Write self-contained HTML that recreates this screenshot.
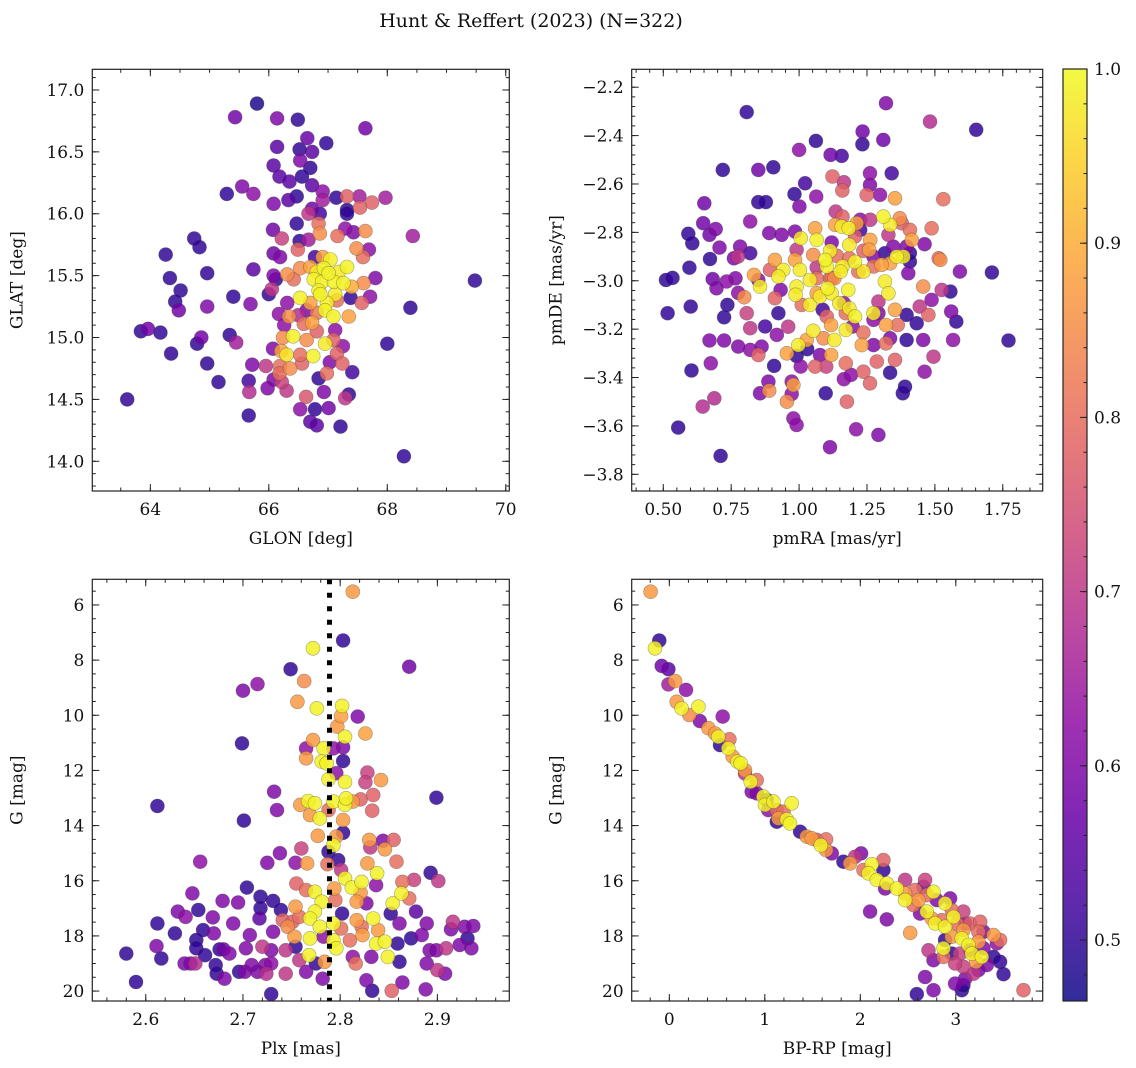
<!DOCTYPE html>
<html><head><meta charset="utf-8"><title>Hunt & Reffert (2023)</title>
<style>
html,body{margin:0;padding:0;background:#fff;}
svg{display:block;font-family:"DejaVu Serif","Liberation Serif",serif;}
</style></head>
<body>
<svg id="fig" width="1136" height="1068" viewBox="0 0 1136 1068" xmlns="http://www.w3.org/2000/svg">
<defs>
<linearGradient id="plasma" x1="0" y1="1" x2="0" y2="0"></linearGradient>
</defs>
<text x="531" y="27" font-size="19" text-anchor="middle" fill="#111">Hunt &amp; Reffert (2023) (N=322)</text>
</svg>
<script>
// ---------- Panel 1 data: GLON / GLAT ----------
const glon=[65.80,65.43,66.14,66.49,67.63,66.65,66.97,66.14,66.52,66.73,66.53,66.08,66.70,66.18,66.35,66.56,66.73,65.55,65.29,65.74,66.08,66.33,66.47,66.91,66.91,67.14,67.32,67.53,67.74,67.97,67.54,67.32,67.32,66.73,66.86,66.67,66.47,66.84,66.07,66.86,67.16,67.29,67.43,67.63,68.43,66.22,66.67,66.52,64.74,64.83,64.26,66.08,66.19,66.49,66.78,66.91,67.04,67.32,67.48,67.59,67.69,65.74,64.96,64.33,66.12,66.08,66.31,66.53,66.42,66.76,66.90,67.10,67.26,67.40,67.60,67.80,69.48,64.51,66.05,66.0,65.40,66.53,66.84,66.98,67.15,67.38,67.71,67.57,64.42,64.48,64.96,65.69,68.39,66.31,66.17,66.34,66.64,66.95,67.09,67.35,66.73,66.50,66.26,66.59,66.81,67.12,63.84,63.96,64.17,64.86,64.79,65.34,65.45,66.24,66.41,66.64,66.95,67.09,67.25,68.0,64.35,66.07,66.21,66.30,66.53,66.75,67.15,64.96,65.72,65.95,66.19,66.36,66.56,67.03,67.24,67.41,66.98,66.18,65.15,65.66,66.08,66.22,66.84,65.67,65.98,66.30,66.93,67.35,67.29,63.61,66.63,66.53,66.78,67.01,65.66,66.70,66.81,67.21,68.28,66.93,67.01,67.18,66.81,66.87,67.12,66.70,66.70,66.81];
const glat=[16.89,16.78,16.77,16.76,16.69,16.61,16.57,16.54,16.52,16.50,16.43,16.39,16.37,16.30,16.26,16.30,16.23,16.22,16.16,16.16,16.08,16.11,16.14,16.18,16.11,16.13,16.14,16.14,16.09,16.13,16.05,16.03,16.0,16.04,16.0,16.0,15.92,15.92,15.87,15.84,15.82,15.88,15.85,15.86,15.82,15.80,15.79,15.78,15.80,15.73,15.67,15.68,15.65,15.71,15.65,15.65,15.63,15.57,15.72,15.65,15.71,15.55,15.52,15.48,15.47,15.50,15.51,15.56,15.47,15.47,15.45,15.45,15.44,15.41,15.44,15.48,15.46,15.38,15.39,15.35,15.33,15.32,15.38,15.28,15.30,15.32,15.33,15.28,15.29,15.22,15.25,15.27,15.24,15.28,15.19,15.17,15.22,15.22,15.17,15.17,15.12,15.18,15.10,15.11,15.05,15.06,15.05,15.07,15.04,15.0,14.95,15.02,14.96,15.0,15.01,14.98,14.95,14.98,14.93,14.95,14.87,14.91,14.89,14.86,14.86,14.85,14.87,14.79,14.78,14.77,14.77,14.75,14.79,14.80,14.79,14.72,14.71,14.71,14.64,14.65,14.66,14.64,14.67,14.56,14.59,14.57,14.56,14.54,14.51,14.50,14.52,14.42,14.42,14.43,14.37,14.32,14.29,14.28,14.04,15.56,15.52,15.53,15.53,15.35,15.35,15.57,15.28,15.20];
const prob1=[0.48,0.58,0.6,0.5,0.58,0.57,0.5,0.55,0.5,0.55,0.6,0.55,0.5,0.55,0.55,0.5,0.55,0.6,0.5,0.62,0.6,0.55,0.5,0.62,0.65,0.5,0.78,0.65,0.78,0.65,0.78,0.5,0.5,0.58,0.52,0.7,0.5,0.8,0.58,0.85,0.8,0.62,0.6,0.85,0.65,0.72,0.65,0.5,0.5,0.5,0.5,0.58,0.6,0.78,0.52,0.88,0.99,0.99,0.85,0.8,0.62,0.55,0.5,0.5,0.5,0.6,0.85,0.85,0.8,0.99,0.99,0.99,0.99,0.9,0.85,0.6,0.5,0.5,0.7,0.5,0.5,0.99,0.99,0.99,0.8,0.5,0.62,0.78,0.5,0.58,0.6,0.6,0.5,0.62,0.62,0.85,0.6,0.99,0.99,0.88,0.88,0.68,0.62,0.8,0.78,0.62,0.5,0.58,0.5,0.58,0.5,0.5,0.65,0.85,0.99,0.85,0.98,0.78,0.62,0.5,0.5,0.6,0.88,0.97,0.8,0.99,0.78,0.5,0.6,0.7,0.8,0.85,0.78,0.6,0.78,0.52,0.8,0.8,0.5,0.52,0.6,0.72,0.5,0.68,0.6,0.7,0.6,0.5,0.7,0.5,0.76,0.62,0.5,0.58,0.5,0.55,0.55,0.5,0.5,0.99,0.99,0.98,0.98,0.99,0.98,0.88,0.88,0.82];

// ---------- Panel 2 data: pmRA / pmDE ----------
const pmra=[0.807,1.32,1.482,1.652,1.062,1.233,1.234,1.0,1.31,1.116,1.157,0.719,0.85,0.905,1.022,1.341,1.123,1.165,1.159,1.261,1.261,1.249,1.298,1.353,1.531,0.983,1.001,1.063,0.85,0.878,0.651,0.647,0.67,0.592,0.607,0.693,0.707,0.82,0.783,0.82,0.672,0.76,0.775,0.596,0.51,0.534,0.516,0.601,0.682,0.696,0.733,0.766,0.736,0.724,0.776,0.798,0.807,0.82,0.875,0.862,0.82,0.85,0.776,0.67,0.724,0.675,0.604,0.645,0.688,0.555,0.711,0.856,0.887,0.89,0.908,0.955,0.973,0.979,0.991,0.973,0.979,1.006,0.991,1.03,0.955,0.96,0.924,0.918,0.911,0.932,0.893,0.911,0.942,0.924,0.834,0.856,0.85,0.89,0.936,0.985,1.006,1.059,1.065,1.12,0.985,1.003,0.991,0.991,0.987,1.04,1.01,1.04,1.052,1.028,0.997,1.065,1.077,1.105,1.12,1.102,1.096,1.052,1.065,1.065,1.114,1.114,1.139,1.157,1.133,1.16,1.135,1.16,1.153,1.185,1.183,1.212,1.206,1.185,1.206,1.218,1.181,1.148,1.172,1.185,1.206,1.172,1.197,1.118,1.13,1.102,1.087,1.09,1.077,1.059,1.1,1.118,1.172,1.165,1.191,1.176,1.21,1.114,1.098,1.237,1.261,1.292,1.286,1.231,1.237,1.274,1.274,1.274,1.292,1.32,1.335,1.32,1.353,1.363,1.353,1.335,1.382,1.39,1.396,1.396,1.433,1.444,1.457,1.462,1.476,1.488,1.495,1.457,1.525,1.557,1.56,1.579,1.567,1.592,1.71,1.771,1.514,1.52,1.462,1.488,1.396,1.408,1.408,1.402,1.415,1.408,1.371,1.378,1.384,1.359,1.335,1.31,1.329,1.347,1.316,1.335,1.304,1.316,1.329,1.292,1.274,1.237,1.237,1.262,1.258,1.262,1.225,1.225,1.274,1.165,1.13,1.12];
const pmde=[-2.303,-2.266,-2.342,-2.376,-2.422,-2.436,-2.383,-2.459,-2.418,-2.48,-2.484,-2.542,-2.542,-2.531,-2.597,-2.556,-2.569,-2.593,-2.627,-2.556,-2.604,-2.645,-2.645,-2.659,-2.663,-2.642,-2.693,-2.652,-2.675,-2.675,-2.68,-2.762,-2.81,-2.806,-2.845,-2.786,-2.863,-2.755,-2.859,-2.886,-2.91,-2.907,-2.9,-2.946,-2.997,-2.988,-3.134,-3.107,-2.993,-3.031,-3.003,-2.99,-3.1,-3.151,-3.05,-3.068,-3.134,-3.196,-3.189,-3.272,-3.286,-3.307,-3.272,-3.247,-3.247,-3.341,-3.371,-3.52,-3.486,-3.607,-3.724,-3.465,-3.417,-3.454,-3.352,-3.5,-3.468,-3.569,-3.596,-3.417,-3.431,-3.355,-3.311,-3.283,-3.3,-3.19,-3.134,-3.224,-3.072,-3.038,-2.955,-2.914,-2.955,-2.983,-2.976,-3.024,-2.997,-2.803,-2.81,-2.797,-2.824,-2.783,-2.831,-2.842,-2.914,-2.955,-2.872,-3.024,-3.058,-2.997,-3.1,-3.1,-3.207,-3.245,-3.266,-3.052,-3.065,-3.031,-3.052,-2.941,-2.914,-2.893,-2.945,-2.99,-2.876,-2.99,-2.897,-2.776,-2.769,-2.735,-2.714,-2.941,-2.962,-2.907,-2.783,-2.762,-2.817,-2.852,-2.922,-2.962,-3.038,-3.093,-3.134,-3.114,-3.148,-3.203,-3.189,-3.183,-3.245,-3.148,-3.12,-3.238,-3.307,-3.355,-3.355,-3.307,-3.341,-3.407,-3.389,-3.5,-3.614,-3.688,-3.465,-3.376,-3.424,-3.637,-3.334,-3.266,-3.214,-3.266,-3.162,-3.134,-3.134,-3.259,-3.238,-3.183,-3.12,-3.183,-3.327,-3.38,-3.465,-3.438,-3.245,-3.141,-3.176,-3.107,-3.245,-3.376,-3.141,-3.079,-3.314,-3.024,-3.038,-3.045,-3.127,-3.169,-3.245,-2.962,-2.966,-3.247,-2.907,-2.914,-2.849,-2.783,-2.859,-2.921,-2.886,-2.969,-2.831,-2.79,-2.742,-2.762,-2.9,-2.9,-2.769,-2.735,-2.81,-2.859,-2.886,-2.928,-2.934,-3.003,-3.052,-3.086,-2.941,-2.962,-2.876,-2.831,-2.872,-2.748,-2.748,-2.79,-2.9,-3.093,-2.99,-2.99];
const prob2=[0.5,0.6,0.68,0.5,0.5,0.5,0.58,0.62,0.58,0.58,0.52,0.5,0.58,0.5,0.52,0.52,0.78,0.7,0.78,0.62,0.6,0.78,0.62,0.88,0.8,0.5,0.6,0.62,0.5,0.5,0.58,0.58,0.58,0.5,0.5,0.6,0.6,0.62,0.6,0.52,0.5,0.6,0.7,0.5,0.5,0.5,0.5,0.5,0.58,0.6,0.62,0.6,0.5,0.5,0.62,0.85,0.72,0.7,0.52,0.6,0.62,0.78,0.6,0.6,0.6,0.62,0.5,0.68,0.68,0.5,0.5,0.6,0.6,0.85,0.5,0.85,0.62,0.62,0.62,0.62,0.88,0.62,0.5,0.5,0.88,0.7,0.5,0.62,0.78,0.6,0.78,0.88,0.98,0.98,0.88,0.98,0.62,0.6,0.6,0.6,0.98,0.88,0.99,0.6,0.88,0.98,0.7,0.98,0.98,0.98,0.8,0.98,0.98,0.88,0.98,0.88,0.98,0.99,0.98,0.99,0.99,0.85,0.7,0.8,0.98,0.8,0.8,0.98,0.88,0.78,0.7,0.98,0.98,0.8,0.98,0.88,0.78,0.98,0.99,0.8,0.99,0.98,0.8,0.98,0.99,0.98,0.62,0.88,0.98,0.78,0.52,0.85,0.6,0.78,0.72,0.88,0.8,0.62,0.62,0.78,0.62,0.6,0.5,0.78,0.78,0.6,0.78,0.88,0.8,0.6,0.62,0.98,0.6,0.8,0.6,0.88,0.88,0.8,0.78,0.5,0.5,0.5,0.5,0.5,0.5,0.7,0.6,0.62,0.78,0.62,0.7,0.85,0.7,0.5,0.6,0.5,0.62,0.6,0.5,0.5,0.8,0.85,0.6,0.8,0.6,0.5,0.5,0.6,0.88,0.8,0.85,0.78,0.98,0.98,0.98,0.99,0.7,0.6,0.5,0.88,0.88,0.98,0.98,0.7,0.8,0.98,0.78,0.88,0.88,0.7,0.62,0.52,0.6,0.62,0.85,0.8];

// ---------- Panel 3 data: Plx / G ----------
const plx=[2.813,2.803,2.772,2.871,2.749,2.763,2.70,2.715,2.756,2.776,2.802,2.801,2.818,2.797,2.805,2.826,2.699,2.772,2.783,2.765,2.765,2.781,2.786,2.793,2.803,2.803,2.796,2.788,2.805,2.828,2.826,2.842,2.732,2.735,2.612,2.899,2.759,2.767,2.774,2.769,2.779,2.793,2.805,2.806,2.813,2.821,2.834,2.833,2.788,2.803,2.803,2.701,2.777,2.793,2.796,2.83,2.844,2.855,2.846,2.831,2.76,2.738,2.656,2.725,2.754,2.766,2.788,2.798,2.787,2.801,2.805,2.828,2.838,2.837,2.858,2.893,2.901,2.876,2.864,2.704,2.755,2.774,2.794,2.812,2.822,2.821,2.765,2.648,2.718,2.731,2.679,2.695,2.754,2.781,2.795,2.817,2.827,2.854,2.863,2.871,2.654,2.633,2.641,2.612,2.669,2.69,2.718,2.717,2.739,2.741,2.751,2.746,2.758,2.774,2.769,2.779,2.793,2.802,2.801,2.817,2.822,2.834,2.839,2.852,2.861,2.878,2.889,2.916,2.928,2.937,2.914,2.63,2.659,2.67,2.707,2.731,2.753,2.769,2.783,2.793,2.81,2.823,2.837,2.846,2.859,2.873,2.884,2.931,2.935,2.923,2.909,2.892,2.899,2.58,2.611,2.652,2.652,2.661,2.676,2.68,2.686,2.703,2.72,2.729,2.744,2.754,2.768,2.784,2.796,2.813,2.816,2.832,2.849,2.861,2.616,2.64,2.646,2.651,2.672,2.673,2.681,2.696,2.702,2.709,2.715,2.724,2.723,2.729,2.744,2.758,2.765,2.775,2.782,2.889,2.9,2.908,2.59,2.729,2.827,2.833,2.853,2.864,2.888];
const gmag3=[5.52,7.29,7.57,8.24,8.33,8.76,9.11,8.87,9.51,9.75,9.66,10.03,10.05,10.41,10.78,10.66,11.02,10.90,11.2,11.2,11.56,11.68,11.74,11.2,11.16,11.66,12.1,12.32,12.42,12.08,12.43,12.35,12.77,13.44,13.29,12.99,13.25,13.11,13.19,13.62,13.74,13.13,13.25,13.01,13.13,13.05,12.89,13.46,13.44,13.8,14.26,13.82,14.37,14.71,14.4,14.52,14.55,14.52,14.86,14.79,14.83,15.0,15.31,15.35,15.35,15.37,14.95,15.25,15.40,15.61,15.91,15.37,15.73,16.16,15.31,15.71,16.01,15.97,16.04,16.25,16.10,16.40,16.28,16.25,16.04,16.44,16.34,16.46,16.58,16.73,16.73,16.79,16.94,16.76,16.70,16.76,16.82,16.82,16.46,16.64,17.06,17.12,17.31,17.55,17.33,17.55,17.0,17.37,17.06,17.43,17.49,17.67,17.31,17.12,17.37,17.67,17.55,17.19,17.73,17.43,17.67,17.37,17.79,17.19,17.55,17.12,17.55,17.49,17.67,17.64,17.76,17.91,17.79,17.91,17.97,17.85,18.03,18.09,18.03,18.16,18.16,17.97,18.28,18.21,18.28,18.09,17.97,18.09,18.45,18.33,18.45,18.52,18.52,18.64,18.37,18.15,18.45,18.70,18.49,18.49,18.64,18.45,18.39,18.52,18.52,18.39,18.70,18.94,18.45,18.76,19.0,18.76,18.76,18.94,18.82,19.0,19.0,19.0,19.06,19.37,19.55,19.30,19.30,19.06,19.30,19.37,19.06,19.0,19.37,18.88,19.30,19.0,19.55,19.0,19.24,19.37,19.67,20.11,19.61,19.99,19.99,19.69,19.94];
const prob3=[0.87,0.5,0.99,0.58,0.5,0.85,0.6,0.62,0.87,0.99,0.99,0.88,0.6,0.87,0.99,0.88,0.5,0.87,0.99,0.62,0.87,0.99,0.99,0.62,0.6,0.5,0.62,0.99,0.99,0.72,0.72,0.87,0.6,0.6,0.5,0.5,0.87,0.99,0.99,0.87,0.99,0.99,0.99,0.99,0.87,0.78,0.78,0.78,0.8,0.87,0.5,0.5,0.87,0.99,0.87,0.87,0.6,0.78,0.87,0.7,0.72,0.6,0.62,0.6,0.62,0.87,0.5,0.5,0.8,0.7,0.99,0.87,0.99,0.62,0.8,0.5,0.7,0.72,0.8,0.5,0.78,0.99,0.87,0.99,0.99,0.87,0.8,0.6,0.5,0.5,0.6,0.6,0.87,0.99,0.8,0.87,0.6,0.99,0.99,0.8,0.5,0.6,0.62,0.5,0.6,0.6,0.5,0.55,0.5,0.78,0.78,0.85,0.8,0.99,0.99,0.99,0.99,0.5,0.8,0.87,0.8,0.99,0.87,0.5,0.6,0.55,0.6,0.7,0.6,0.6,0.6,0.5,0.5,0.6,0.6,0.6,0.87,0.99,0.62,0.99,0.8,0.87,0.99,0.99,0.5,0.5,0.6,0.5,0.6,0.6,0.7,0.6,0.6,0.5,0.6,0.5,0.5,0.5,0.5,0.58,0.6,0.6,0.7,0.6,0.7,0.5,0.99,0.87,0.99,0.62,0.8,0.6,0.99,0.5,0.5,0.6,0.6,0.68,0.5,0.5,0.6,0.5,0.6,0.6,0.6,0.68,0.6,0.62,0.7,0.7,0.6,0.5,0.6,0.6,0.7,0.6,0.5,0.5,0.6,0.5,0.78,0.6,0.6];

// ---------- Panel 4 data: BP-RP / G ----------
const bprp=[-0.196,-0.105,-0.15,-0.08,-0.01,-0.01,0.06,0.175,0.077,0.129,0.21,0.304,0.32,0.559,0.409,0.479,0.513,0.531,0.629,0.618,0.664,0.713,0.747,0.793,0.793,0.852,0.915,0.863,0.915,0.985,1.02,1.002,1.09,1.282,1.125,1.037,1.195,1.142,1.125,1.23,1.264,1.369,1.439,1.491,1.544,1.642,1.586,1.642,1.701,1.823,1.893,1.945,2.008,2.033,2.12,2.085,2.242,2.242,2.173,2.277,2.26,2.382,2.469,2.469,2.469,2.574,2.679,2.662,2.609,2.766,2.696,2.801,2.888,2.94,2.696,2.626,2.556,2.748,2.783,2.853,2.888,2.976,2.958,3.08,3.01,3.08,3.15,3.255,3.395,3.464,3.43,3.237,3.063,3.133,3.237,3.168,3.272,3.213,2.958,2.888,2.871,2.871,2.958,3.045,3.15,3.29,3.395,3.464,3.499,3.325,3.237,3.185,3.08,2.993,3.098,2.993,3.063,3.08,2.766,2.714,2.679,2.766,2.592,2.103,2.277,2.522,3.709,3.29,3.098];
const gmag4=[5.52,7.29,7.57,8.21,8.33,8.88,8.76,9.08,9.51,9.75,9.99,9.69,10.21,10.05,10.47,10.66,10.78,11.08,10.87,11.2,11.5,11.68,11.74,11.99,12.11,12.41,12.35,12.77,12.83,12.95,13.07,13.25,13.13,13.19,13.44,13.44,13.5,13.74,13.86,13.78,13.92,14.22,14.4,14.46,14.52,14.5,14.71,14.89,15.01,15.31,15.37,15.13,15.01,15.61,15.4,15.73,15.25,15.61,15.97,16.1,16.28,16.28,15.97,16.7,16.46,16.34,15.97,16.22,16.70,16.4,16.52,16.70,16.82,16.64,17.12,17.19,16.88,17.37,17.55,17.43,17.67,17.31,17.06,17.12,17.55,17.79,17.55,17.49,17.97,18.15,18.27,17.85,18.09,18.33,18.21,18.64,18.76,18.94,18.03,18.15,18.45,18.76,18.64,18.64,18.52,18.45,18.76,18.94,19.39,19.06,19.24,19.37,19.12,19.0,19.55,19.73,19.97,19.79,18.88,18.52,19.49,19.97,20.11,17.12,17.40,17.89,19.97,17.85,17.55];
const prob4=[0.87,0.5,0.99,0.58,0.55,0.65,0.87,0.62,0.87,0.99,0.85,0.99,0.6,0.62,0.87,0.87,0.99,0.5,0.8,0.99,0.87,0.99,0.99,0.87,0.7,0.99,0.8,0.6,0.6,0.99,0.5,0.99,0.99,0.99,0.8,0.62,0.8,0.87,0.5,0.99,0.99,0.5,0.87,0.87,0.78,0.8,0.99,0.87,0.6,0.5,0.87,0.7,0.6,0.8,0.99,0.99,0.78,0.5,0.99,0.99,0.6,0.99,0.7,0.99,0.87,0.8,0.72,0.6,0.87,0.99,0.8,0.6,0.99,0.6,0.99,0.6,0.8,0.87,0.99,0.8,0.99,0.99,0.8,0.72,0.8,0.87,0.78,0.78,0.87,0.8,0.62,0.8,0.99,0.99,0.87,0.99,0.99,0.87,0.87,0.5,0.99,0.8,0.5,0.72,0.6,0.6,0.5,0.5,0.5,0.6,0.6,0.7,0.72,0.72,0.6,0.6,0.5,0.5,0.6,0.7,0.6,0.6,0.5,0.6,0.6,0.87,0.78,0.6,0.6];

// ---------- Axis tick labels ----------
const p1xTicks=[64,66,68,70];
const p1yTicks=[14.0,14.5,15.0,15.5,16.0,16.5,17.0];
const p2xTicks=[0.50,0.75,1.00,1.25,1.50,1.75];
const p2yTicks=[-3.8,-3.6,-3.4,-3.2,-3.0,-2.8,-2.6,-2.4,-2.2];
const p3xTicks=[2.6,2.7,2.8,2.9];
const gTicks=[6,8,10,12,14,16,18,20];
const p4xTicks=[0,1,2,3];
const cbTicks=[0.5,0.6,0.7,0.8,0.9,1.0];
const plxRef=[2.789];

const NS="http://www.w3.org/2000/svg";
const svg=document.getElementById('fig');
const VMIN=0.465,VMAX=1.0;
const plasmaStops=[[13,8,135],[65,4,157],[106,0,168],[143,13,164],[177,42,144],[204,71,120],[225,100,98],[242,132,75],[252,166,54],[252,206,37],[240,249,33]];
function plasma(t){t=Math.max(0,Math.min(1,t));const f=t*10,i=Math.min(9,Math.floor(f)),r=f-i;const a=plasmaStops[i],b=plasmaStops[i+1];return 'rgb('+a.map((v,k)=>Math.round(v+(b[k]-v)*r)).join(',')+')';}
function cmap(p){return plasma((p-VMIN)/(VMAX-VMIN));}
function mk(tag,attrs,parent){const e=document.createElementNS(NS,tag);for(const k in attrs)e.setAttribute(k,attrs[k]);(parent||svg).appendChild(e);return e;}
function lin(d0,d1,r0,r1){return v=>r0+(v-d0)/(d1-d0)*(r1-r0);}

const panels=[
 {id:'glon-glat',L:92.3,R:509.3,T:69.3,B:491,xd:[63.02,70.06],yd:[13.76,17.167],inv:false,xs:glon,ys:glat,ps:prob1,xt:p1xTicks,yt:p1yTicks,xf:v=>v.toFixed(0),yf:v=>v.toFixed(1),xmin:0.5,ymin:0.1,xl:'GLON [deg]',yl:'GLAT [deg]'},
 {id:'pmra-pmde',L:631.7,R:1042.7,T:69.3,B:491,xd:[0.3837,1.897],yd:[-3.869,-2.126],inv:false,xs:pmra,ys:pmde,ps:prob2,xt:p2xTicks,yt:p2yTicks,xf:v=>v.toFixed(2),yf:v=>(v<0?'\u2212':'')+Math.abs(v).toFixed(1),xmin:0.05,ymin:0.04,xl:'pmRA [mas/yr]',yl:'pmDE [mas/yr]'},
 {id:'plx-g',L:92.3,R:509.3,T:579.3,B:1001,xd:[2.545,2.974],yd:[5.07,20.36],inv:true,xs:plx,ys:gmag3,ps:prob3,xt:p3xTicks,yt:gTicks,xf:v=>v.toFixed(1),yf:v=>v.toFixed(0),xmin:0.02,ymin:0.5,xl:'Plx [mas]',yl:'G [mag]'},
 {id:'bprp-g',L:631.7,R:1042.7,T:579.3,B:1001,xd:[-0.394,3.91],yd:[5.07,20.36],inv:true,xs:bprp,ys:gmag4,ps:prob4,xt:p4xTicks,yt:gTicks,xf:v=>v.toFixed(0),yf:v=>v.toFixed(0),xmin:0.2,ymin:0.5,xl:'BP-RP [mag]',yl:'G [mag]'}
];

panels.forEach((P,pi)=>{
 const g=mk('g',{});
 
 
 const X=lin(P.xd[0],P.xd[1],P.L,P.R);
 const Y=P.inv?lin(P.yd[0],P.yd[1],P.T,P.B):lin(P.yd[0],P.yd[1],P.B,P.T);
 const cp=mk('clipPath',{id:'clip'+pi},g);
 mk('rect',{x:P.L,y:P.T,width:P.R-P.L,height:P.B-P.T},cp);
 const pts=mk('g',{'clip-path':'url(#clip'+pi+')'},g);
 
 
 const n=Math.min(P.xs.length,P.ys.length,P.ps.length);
 const idx=[...Array(n).keys()].sort((a,b)=>P.ps[a]-P.ps[b]);
 idx.forEach(i=>{
  const c=mk('circle',{cx:X(P.xs[i]).toFixed(1),cy:Y(P.ys[i]).toFixed(1),r:7,fill:cmap(P.ps[i]),'fill-opacity':0.84,stroke:'rgba(60,60,60,0.45)','stroke-width':0.6},pts);
  
  
 });
 if(pi===2){
  plxRef.forEach(v=>{
   const l=mk('line',{x1:X(v),x2:X(v),y1:P.T,y2:P.B,stroke:'#000','stroke-width':5,'stroke-dasharray':'5 8.5'},g);
   
   
  });
 }
 const fr=mk('rect',{x:P.L,y:P.T,width:P.R-P.L,height:P.B-P.T,fill:'none',stroke:'#222','stroke-width':1.2},g);
 
 
 const tk=mk('g',{stroke:'#222','stroke-width':1},g);
 const xs0=Math.ceil(P.xd[0]/P.xmin-1e-6),xs1=Math.floor(P.xd[1]/P.xmin+1e-6);
 for(let k=xs0;k<=xs1;k++){const x=X(k*P.xmin);mk('line',{x1:x,x2:x,y1:P.B,y2:P.B-3.5},tk);mk('line',{x1:x,x2:x,y1:P.T,y2:P.T+3.5},tk);}
 const ys0=Math.ceil(P.yd[0]/P.ymin-1e-6),ys1=Math.floor(P.yd[1]/P.ymin+1e-6);
 for(let k=ys0;k<=ys1;k++){const y=Y(k*P.ymin);mk('line',{x1:P.L,x2:P.L+3.5,y1:y,y2:y},tk);mk('line',{x1:P.R,x2:P.R-3.5,y1:y,y2:y},tk);}
 P.xt.forEach(v=>{const x=X(v);mk('line',{x1:x,x2:x,y1:P.B,y2:P.B-7},tk);mk('line',{x1:x,x2:x,y1:P.T,y2:P.T+7},tk);
  const t=mk('text',{x:x,y:P.B+24,'font-size':17,'text-anchor':'middle',fill:'#111'},g);t.textContent=P.xf(v);
  
  });
 P.yt.forEach(v=>{const y=Y(v);mk('line',{x1:P.L,x2:P.L+7,y1:y,y2:y},tk);mk('line',{x1:P.R,x2:P.R-7,y1:y,y2:y},tk);
  const t=mk('text',{x:P.L-8,y:y+6,'font-size':17,'text-anchor':'end',fill:'#111'},g);t.textContent=P.yf(v);
  
  });
 const xl=mk('text',{x:(P.L+P.R)/2,y:P.B+53,'font-size':17,'text-anchor':'middle',fill:'#111'},g);xl.textContent=P.xl;
 
 
 const yx=P.L-(pi%2===0?70:70),yy=(P.T+P.B)/2;
 const yl=mk('text',{x:yx,y:yy,'font-size':17,'text-anchor':'middle',fill:'#111',transform:'rotate(-90 '+yx+' '+yy+')'},g);yl.textContent=P.yl;
 
 
});

// ---------- Colorbar ----------
const grad=document.getElementById('plasma');
for(let i=0;i<=20;i++){const s=document.createElementNS(NS,'stop');s.setAttribute('offset',(i/20));s.setAttribute('stop-color',plasma(i/20));s.setAttribute('stop-opacity',0.85);grad.appendChild(s);}
const cb=mk('g',{});


const CL=1063,CR=1087,CT=69,CB=1001;
mk('rect',{x:CL,y:CT,width:CR-CL,height:CB-CT,fill:'url(#plasma)',stroke:'#222','stroke-width':1.2},cb);
const CY=lin(VMIN,VMAX,CB,CT);
for(let k=Math.ceil(VMIN/0.02);k<=Math.floor(VMAX/0.02+1e-6);k++){const y=CY(k*0.02);mk('line',{x1:CR,x2:CR-3.5,y1:y,y2:y,stroke:'#222'},cb);}
cbTicks.forEach(v=>{const y=CY(v);mk('line',{x1:CR,x2:CR-7,y1:y,y2:y,stroke:'#222'},cb);
 const t=mk('text',{x:CR+7,y:y+6,'font-size':17,fill:'#111'},cb);t.textContent=v.toFixed(1);
 
 });
</script>
</body></html>
